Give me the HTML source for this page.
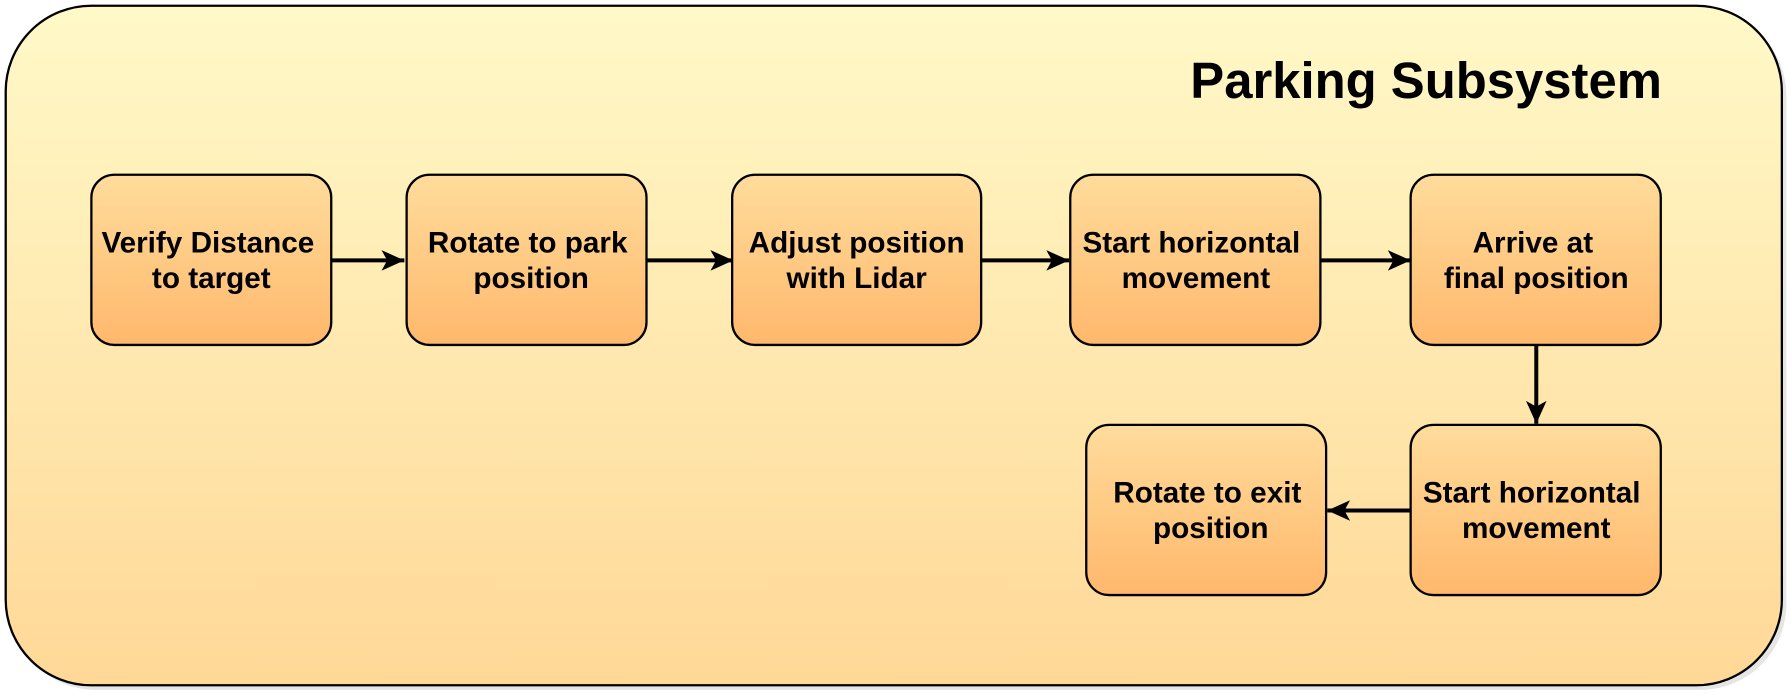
<!DOCTYPE html>
<html><head><meta charset="utf-8"><style>html,body{margin:0;padding:0;background:#fff}svg{display:block}</style></head>
<body>
<svg width="1791" height="695" viewBox="0 0 1568 608.5" preserveAspectRatio="none" xmlns="http://www.w3.org/2000/svg">
<defs>
<linearGradient id="bg" x1="0" y1="0" x2="0" y2="1"><stop offset="0" stop-color="#fff9c8"/><stop offset="1" stop-color="#ffd897"/></linearGradient>
<linearGradient id="bx" x1="0" y1="0" x2="0" y2="1"><stop offset="0" stop-color="#ffdc9c"/><stop offset="1" stop-color="#ffb86c"/></linearGradient>
<marker id="ah2" markerWidth="22" markerHeight="18" refX="20" refY="9" orient="auto" markerUnits="userSpaceOnUse"><path d="M0,0 L20,9 L0,18 L5,9 Z" fill="#000"/></marker>
</defs>
<rect x="9" y="9" width="1555" height="595" rx="75" fill="#ccc" opacity="0.5"/>
<rect x="5" y="5" width="1555" height="595" rx="75" fill="url(#bg)" stroke="#000" stroke-width="2"/>
<text x="1455" y="86" text-anchor="end" font-family="Liberation Sans, sans-serif" font-weight="bold" font-size="44.5">Parking Subsystem</text>
<g stroke="#000" stroke-width="3.5" fill="none">
<line x1="290" y1="228" x2="354" y2="228" marker-end="url(#ah2)"/>
<line x1="566" y1="228" x2="642" y2="228" marker-end="url(#ah2)"/>
<line x1="859" y1="228" x2="936" y2="228" marker-end="url(#ah2)"/>
<line x1="1156" y1="228" x2="1235" y2="228" marker-end="url(#ah2)"/>
<line x1="1345" y1="302" x2="1345" y2="371" marker-end="url(#ah2)"/>
<line x1="1235" y1="447" x2="1162" y2="447" marker-end="url(#ah2)"/>
</g>
<g stroke="#000" stroke-width="2" fill="url(#bx)">
<rect x="80" y="153" width="210" height="149" rx="20"/>
<rect x="356" y="153" width="210" height="149" rx="20"/>
<rect x="641" y="153" width="218" height="149" rx="20"/>
<rect x="937" y="153" width="219" height="149" rx="20"/>
<rect x="1235" y="153" width="219" height="149" rx="20"/>
<rect x="951" y="372" width="210" height="149" rx="20"/>
<rect x="1235" y="372" width="219" height="149" rx="20"/>
</g>
<g font-family="Liberation Sans, sans-serif" font-weight="bold" font-size="26" text-anchor="middle">
<text x="182" y="221">Verify Distance</text><text x="185" y="252">to target</text>
<text x="462" y="221">Rotate to park</text><text x="465" y="252">position</text>
<text x="750" y="221">Adjust position</text><text x="750" y="252">with Lidar</text>
<text x="1043" y="221">Start horizontal</text><text x="1047" y="252">movement</text>
<text x="1342" y="221">Arrive at</text><text x="1345" y="252">final position</text>
<text x="1057" y="440">Rotate to exit</text><text x="1060" y="471">position</text>
<text x="1341" y="440">Start horizontal</text><text x="1345" y="471">movement</text>
</g>
</svg>
</body></html>
